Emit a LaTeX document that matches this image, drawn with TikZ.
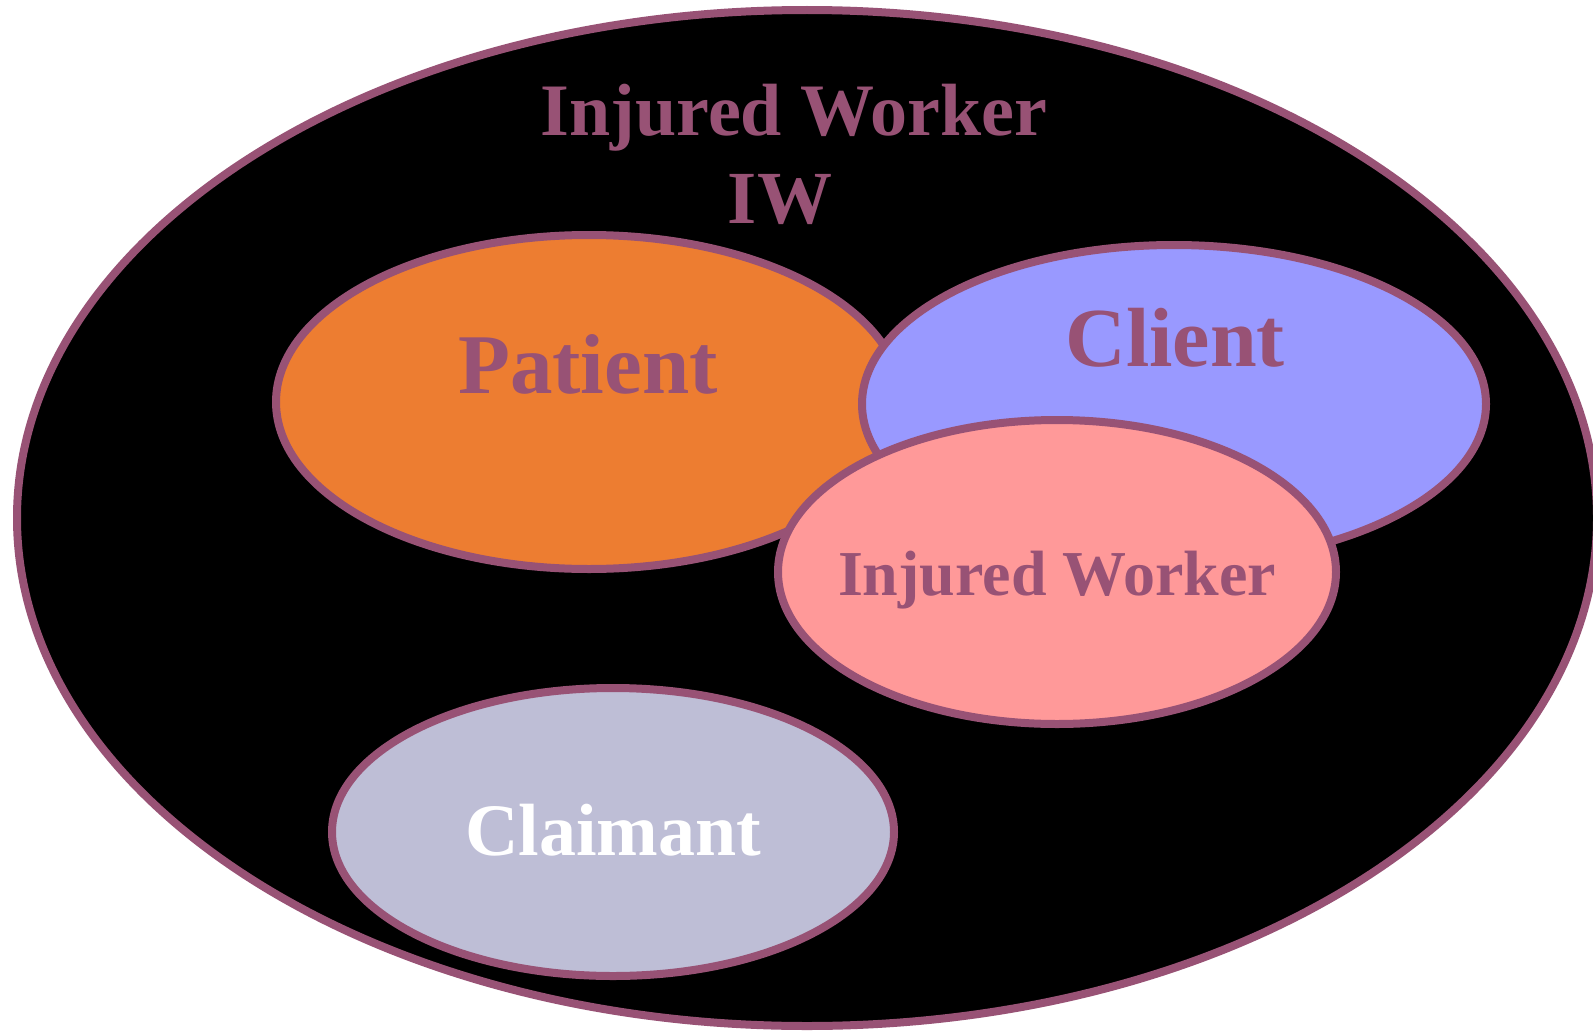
\documentclass[tikz,border=0pt]{standalone}
\usepackage{fontspec}
\setmainfont{Liberation Serif}
\definecolor{plum}{HTML}{985275}
\definecolor{porange}{HTML}{ED7D31}
\definecolor{pclient}{HTML}{9999FF}
\definecolor{ppink}{HTML}{FF9999}
\definecolor{pclaim}{HTML}{BEBED6}
\tikzset{
  blob/.style={draw=plum, line width=8pt},
  lbl/.style={anchor=base, inner sep=0pt, text=plum, font=\bfseries},
}
\begin{document}
\begin{tikzpicture}[x=1pt,y=-1pt]
\useasboundingbox (0,0) rectangle (1593,1033);
\fill[white] (0,0) rectangle (1593,1033);
\draw[blob, fill=black] (807,518) ellipse [x radius=790, y radius=508];
\draw[blob, fill=porange] (589,402) ellipse [x radius=313, y radius=167];
\draw[blob, fill=pclient] (1174,404) ellipse [x radius=312, y radius=159];
\draw[blob, fill=ppink] (1057,572) ellipse [x radius=279, y radius=152];
\draw[blob, fill=pclaim] (613,832) ellipse [x radius=281, y radius=144];
\node[lbl, font=\bfseries\fontsize{74}{74}\selectfont] (title) at (794,135) {Injured Worker};
\node[lbl, font=\bfseries\fontsize{75}{75}\selectfont] (iw) at (780,223) {IW};
\node[lbl, font=\bfseries\fontsize{85}{85}\selectfont] (patient) at (588,393) {Patient};
\node[lbl, font=\bfseries\fontsize{84}{84}\selectfont] (client) at (1175,366) {Client};
\node[lbl, font=\bfseries\fontsize{64}{64}\selectfont] (worker) at (1057,595) {Injured Worker};
\node[lbl, text=white, font=\bfseries\fontsize{74}{74}\selectfont] (claimant) at (613,855) {Claimant};
\end{tikzpicture}
\end{document}
